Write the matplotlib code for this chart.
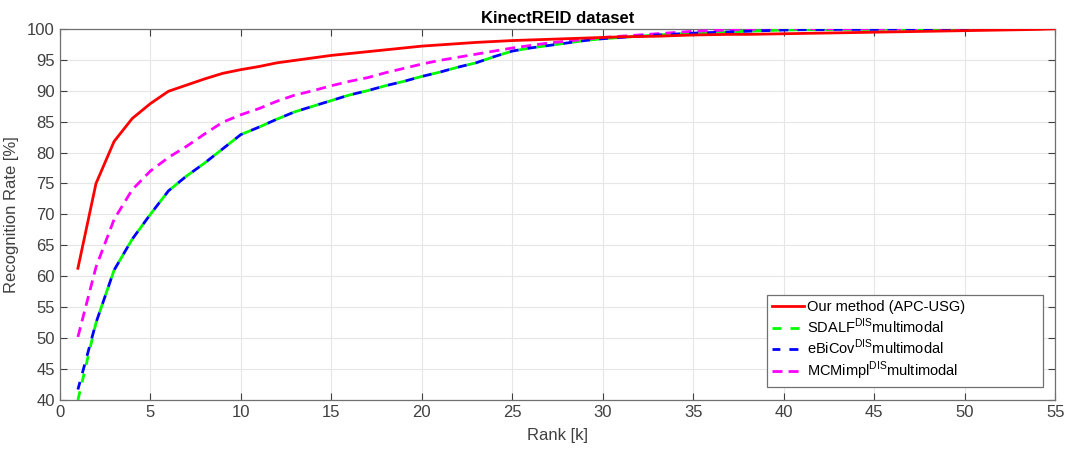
import matplotlib
matplotlib.use("Agg")
import matplotlib.pyplot as plt
import numpy as np

plt.rcParams['font.family'] = ['Liberation Sans', 'DejaVu Sans']
plt.rcParams['mathtext.fontset'] = 'custom'
plt.rcParams['mathtext.rm'] = 'Liberation Sans'

ranks_red = list(range(1, 56))
ours = [61.3, 75.0, 81.8, 85.5, 87.9, 89.9, 90.9, 91.9, 92.8, 93.4,
        93.9, 94.5, 94.9, 95.3, 95.7, 96.0, 96.3, 96.6, 96.9, 97.2,
        97.4, 97.6, 97.8, 97.95, 98.1, 98.2, 98.3, 98.4, 98.5, 98.6,
        98.7, 98.75, 98.8, 98.9, 99.0, 99.05, 99.1, 99.1, 99.15, 99.2,
        99.25, 99.3, 99.35, 99.4, 99.45, 99.5, 99.55, 99.6, 99.65, 99.7,
        99.75, 99.8, 99.85, 99.9, 100.0]

ranks_other = list(range(1, 52))
sdalf = [40.0, 52.5, 61.0, 66.0, 70.0, 73.8, 76.2, 78.3, 80.6, 82.9,
         84.1, 85.4, 86.6, 87.5, 88.4, 89.3, 90.0, 90.8, 91.5, 92.3,
         93.0, 93.8, 94.5, 95.5, 96.4, 96.9, 97.3, 97.7, 98.1, 98.4,
         98.6, 98.8, 99.0, 99.15, 99.3, 99.4, 99.5, 99.6, 99.7, 99.8,
         99.85, 99.85, 99.9, 99.9, 99.9, 99.95, 99.95, 99.95, 100.0, 100.0, 100.0]
ebicov = [41.7, 52.5, 61.0, 66.0, 70.0, 73.8, 76.2, 78.3, 80.6, 82.9,
          84.1, 85.4, 86.6, 87.5, 88.4, 89.3, 90.0, 90.8, 91.5, 92.3,
          93.0, 93.8, 94.5, 95.5, 96.4, 96.9, 97.3, 97.7, 98.1, 98.4,
          98.6, 98.8, 99.0, 99.15, 99.3, 99.4, 99.5, 99.6, 99.7, 99.8,
          99.85, 99.85, 99.9, 99.9, 99.9, 99.95, 99.95, 99.95, 100.0, 100.0, 100.0]
mcm = [50.2, 61.5, 69.2, 74.0, 77.0, 79.2, 81.0, 83.0, 84.9, 86.1,
       87.1, 88.3, 89.3, 90.0, 90.8, 91.5, 92.1, 92.9, 93.6, 94.3,
       94.9, 95.4, 95.9, 96.4, 96.9, 97.3, 97.7, 98.0, 98.3, 98.6,
       98.8, 99.0, 99.2, 99.4, 99.6, 99.7, 99.8, 99.9, 99.95, 100.0,
       100.0, 100.0, 100.0, 100.0, 100.0, 100.0, 100.0, 100.0, 100.0, 100.0, 100.0]

labels = ['Our method (APC-USG)',
          r'SDALF$^{\mathrm{DIS}}$multimodal',
          r'eBiCov$^{\mathrm{DIS}}$multimodal',
          r'MCMimpl$^{\mathrm{DIS}}$multimodal']
x_ticks = list(range(0, 60, 5))
y_ticks = list(range(40, 105, 5))

fig = plt.figure(figsize=(10.68, 4.5), dpi=100)
ax = fig.add_axes([0.056, 0.111, 0.932, 0.825])

ax.plot(ranks_red, ours, color='#ff0000', lw=2.0, label=labels[0], zorder=5)
ax.plot(ranks_other, sdalf, color='#00ff00', lw=2.0,
        linestyle=(0, (3.25, 3.25)), label=labels[1], zorder=3)
ax.plot(ranks_other, ebicov, color='#0000ff', lw=2.0,
        linestyle=(0.42, (3.25, 3.25)), label=labels[2], zorder=4)
ax.plot(ranks_other, mcm, color='#ff00ff', lw=2.0, linestyle=(0, (3.6, 2.2)), label=labels[3], zorder=3)

ax.set_xlim(0, 55)
ax.set_ylim(40, 100)
ax.set_xticks(x_ticks)
ax.set_yticks(y_ticks)
ax.grid(True, color='#e6e6e6', lw=0.8)
ax.set_axisbelow(True)
ax.tick_params(direction='in', top=True, right=True, labelsize=12, colors='#404040', length=5)
for s in ax.spines.values():
    s.set_color('#707070')
    s.set_linewidth(0.9)

ax.set_xlabel('Rank [k]', fontsize=12, color='#404040', labelpad=6)
ax.set_ylabel('Recognition Rate [%]', fontsize=12, color='#404040', labelpad=6)
ax.set_title('KinectREID dataset', fontsize=12, fontweight='bold', pad=4)

leg = ax.legend(loc='lower left', bbox_to_anchor=(0.7106, 0.035, 0.2774, 0.24), mode='expand',
                fontsize=10.5, frameon=True, fancybox=False, framealpha=1, edgecolor='#707070',
                handlelength=2.2, handletextpad=0.2, borderpad=0.35, borderaxespad=0.0,
                labelspacing=0.15)
leg.get_frame().set_linewidth(0.9)

fig.savefig('out.png', dpi=100)
